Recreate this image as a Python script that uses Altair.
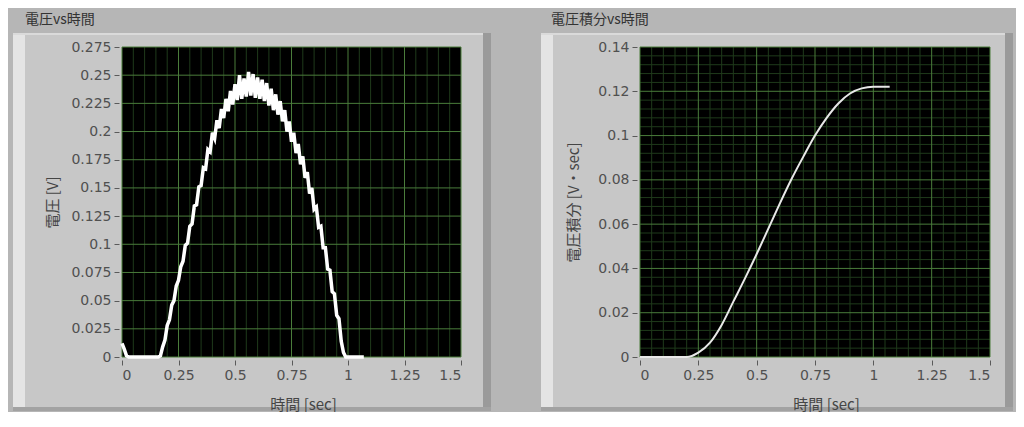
import altair as alt
import pandas as pd

# ---------------- data ----------------
time_v = [
    0.00, 0.01, 0.02, 0.03, 0.04, 0.05, 0.06, 0.07, 0.08, 0.09,
    0.10, 0.11, 0.12, 0.13, 0.14, 0.15, 0.16, 0.17, 0.18, 0.19,
    0.20, 0.21, 0.22, 0.23, 0.24, 0.25, 0.26, 0.27, 0.28, 0.29,
    0.30, 0.31, 0.32, 0.33, 0.34, 0.35, 0.36, 0.37, 0.38, 0.39,
    0.40, 0.41, 0.42, 0.43, 0.44, 0.45, 0.46, 0.47, 0.48, 0.49,
    0.50, 0.51, 0.52, 0.53, 0.54, 0.55, 0.56, 0.57, 0.58, 0.59,
    0.60, 0.61, 0.62, 0.63, 0.64, 0.65, 0.66, 0.67, 0.68, 0.69,
    0.70, 0.71, 0.72, 0.73, 0.74, 0.75, 0.76, 0.77, 0.78, 0.79,
    0.80, 0.81, 0.82, 0.83, 0.84, 0.85, 0.86, 0.87, 0.88, 0.89,
    0.90, 0.91, 0.92, 0.93, 0.94, 0.95, 0.96, 0.97, 0.98, 0.99,
    1.00, 1.01, 1.02, 1.03, 1.04, 1.05, 1.06, 1.07,
]
voltage = [
    0.012, 0.007, 0.001, 0, 0, 0, 0, 0, 0, 0,
    0, 0, 0, 0, 0, 0, 0, 0.001, 0.009, 0.015,
    0.028, 0.033, 0.046, 0.050, 0.063, 0.068, 0.080, 0.085, 0.099, 0.101,
    0.116, 0.118, 0.134, 0.135, 0.151, 0.152, 0.168, 0.167, 0.184, 0.182,
    0.199, 0.194, 0.210, 0.203, 0.220, 0.212, 0.229, 0.218, 0.236, 0.224,
    0.242, 0.228, 0.250, 0.229, 0.247, 0.231, 0.253, 0.232, 0.251, 0.230,
    0.248, 0.229, 0.246, 0.227, 0.243, 0.223, 0.238, 0.219, 0.233, 0.215,
    0.227, 0.209, 0.219, 0.200, 0.209, 0.191, 0.199, 0.181, 0.189, 0.171,
    0.178, 0.159, 0.164, 0.145, 0.150, 0.131, 0.133, 0.115, 0.116, 0.097,
    0.097, 0.078, 0.077, 0.058, 0.056, 0.037, 0.034, 0.014, 0.004, 0,
    0, 0, 0, 0, 0, 0, 0, 0,
]

time_i = [0.00, 0.05, 0.10, 0.15, 0.20, 0.25, 0.30, 0.35, 0.40, 0.45,
          0.50, 0.55, 0.60, 0.65, 0.70, 0.75, 0.80, 0.85, 0.90, 0.95,
          1.00, 1.05, 1.07]
integral = [0, 0, 0, 0, 0, 0.002, 0.0065, 0.0145, 0.025, 0.0355,
            0.0465, 0.058, 0.0695, 0.0805, 0.0905, 0.100, 0.108, 0.1145, 0.119, 0.1213,
            0.122, 0.122, 0.122]

x_ticks = [0, 0.25, 0.5, 0.75, 1, 1.25, 1.5]
x_minor = [0.05, 0.1, 0.15, 0.2, 0.3, 0.35, 0.4, 0.45, 0.55, 0.6, 0.65, 0.7,
           0.8, 0.85, 0.9, 0.95, 1.05, 1.1, 1.15, 1.2, 1.3, 1.35, 1.4, 1.45]
yv_ticks = [0, 0.025, 0.05, 0.075, 0.1, 0.125, 0.15, 0.175, 0.2, 0.225, 0.25, 0.275]
yi_ticks = [0, 0.02, 0.04, 0.06, 0.08, 0.1, 0.12, 0.14]
yi_minor = [0.004, 0.008, 0.012, 0.016, 0.024, 0.028, 0.032, 0.036,
            0.044, 0.048, 0.052, 0.056, 0.064, 0.068, 0.072, 0.076,
            0.084, 0.088, 0.092, 0.096, 0.104, 0.108, 0.112, 0.116,
            0.124, 0.128, 0.132, 0.136]

title_left = "電圧vs時間"
title_right = "電圧積分vs時間"

# ---------------- style ----------------
BG = "#b6b6b6"
FRAME = "#c7c7c7"
BEVEL_LIGHT = "#e4e4e4"
BEVEL_DARK = "#9a9a9a"
MAJOR = "#4a7c3b"
MINOR = "#1f3a1b"
LABEL = "#505050"
CJK = "Noto Sans CJK JP"


def axis(values, title, tx, ty):
    return alt.Axis(
        values=values, format=".4~g", grid=False, domain=False,
        ticks=True, tickSize=5, tickColor="#5a5a5a", tickWidth=1,
        labelColor=LABEL, labelFont="DejaVu Sans", labelFontSize=14,
        labelPadding=3, offset=3, title=title, titleFont=CJK,
        titleFontSize=15, titleFontWeight="normal", titleColor="#454545",
        titleX=tx, titleY=ty, titleBaseline="middle", titleAlign="center",
        zindex=1,
    )


def box(x1, x2, y1, y2, color):
    return alt.Chart(pd.DataFrame({"k": [0]})).mark_rect(color=color).encode(
        x=alt.value(x1), x2=alt.value(x2), y=alt.value(y1), y2=alt.value(y2))


def panel(w, h, cell, frame, title, title_pos, xs, ys, xax, yax,
          ymax, hmajor, hminor, line_df, yfield, line_color, line_w, interp):
    cx1, cx2, cy1, cy2 = cell
    fx1, fx2, fy1, fy2 = frame
    deco = [
        box(cx1, cx2, cy1, cy2, BG),
        box(fx1, fx2, fy1, fy2, FRAME),
        box(fx1, fx1 + 12, fy1, fy2, BEVEL_LIGHT),
        box(fx1, fx2, fy1, fy1 + 2, "#dadada"),
        box(fx2 - 8, fx2, fy1, fy2, BEVEL_DARK),
        box(fx1, fx2, fy2 - 4, fy2, "#a2a2a2"),
        alt.Chart(pd.DataFrame({"t": [title]})).mark_text(
            font=CJK, fontSize=14, color="#333333", align="left", baseline="middle"
        ).encode(x=alt.value(title_pos[0]), y=alt.value(title_pos[1]), text="t:N"),
    ]
    bg = alt.Chart(pd.DataFrame({"x0": [0], "x1": [1.5], "y0": [0], "y1": [ymax]})).mark_rect(
        color="#000000").encode(
        x=alt.X("x0:Q", scale=xs, axis=xax), x2="x1:Q",
        y=alt.Y("y0:Q", scale=ys, axis=yax), y2="y1:Q")
    vminor = alt.Chart(pd.DataFrame({"v": x_minor})).mark_rule(color=MINOR, strokeWidth=1).encode(
        x=alt.X("v:Q", scale=xs, axis=xax))
    vmajor = alt.Chart(pd.DataFrame({"v": x_ticks})).mark_rule(color=MAJOR, strokeWidth=1).encode(
        x=alt.X("v:Q", scale=xs, axis=xax))
    layers = deco + [bg, vminor]
    if hminor:
        layers.append(alt.Chart(pd.DataFrame({"h": hminor})).mark_rule(color=MINOR, strokeWidth=1).encode(
            y=alt.Y("h:Q", scale=ys, axis=yax)))
    layers.append(vmajor)
    layers.append(alt.Chart(pd.DataFrame({"h": hmajor})).mark_rule(color=MAJOR, strokeWidth=1).encode(
        y=alt.Y("h:Q", scale=ys, axis=yax)))
    lkw = dict(color=line_color, strokeWidth=line_w)
    if interp:
        lkw["interpolate"] = interp
    layers.append(alt.Chart(line_df).mark_line(**lkw).encode(
        x=alt.X("t:Q", scale=xs, axis=xax),
        y=alt.Y(yfield + ":Q", scale=ys, axis=yax)))
    return alt.layer(*layers).properties(width=w, height=h)


xs_l = alt.Scale(domain=[0, 1.5], nice=False, zero=False)
ys_l = alt.Scale(domain=[0, 0.275], nice=False)
xs_r = alt.Scale(domain=[0, 1.5], nice=False, zero=False)
ys_r = alt.Scale(domain=[0, 0.14], nice=False)

left = panel(
    339, 310,
    cell=(-114, 390, -39, 365), frame=(-109, 369, -14, 364),
    title=title_left, title_pos=(-97, -27),
    xs=xs_l, ys=ys_l,
    xax=axis(x_ticks, "時間 [sec]", 181, 44),
    yax=axis(yv_ticks, "電圧 [V]", -67, 155),
    ymax=0.275, hmajor=yv_ticks, hminor=None,
    line_df=pd.DataFrame({"t": time_v, "v": voltage}), yfield="v",
    line_color="#ffffff", line_w=3.5, interp=None,
)

right = panel(
    350, 310,
    cell=(-128, 376, -39, 365), frame=(-99, 373, -14, 364),
    title=title_right, title_pos=(-89, -27),
    xs=xs_r, ys=ys_r,
    xax=axis(x_ticks, "時間 [sec]", 186, 44),
    yax=axis(yi_ticks, "電圧積分 [V・sec]", -64, 155),
    ymax=0.14, hmajor=yi_ticks, hminor=yi_minor,
    line_df=pd.DataFrame({"t": time_i, "i": integral}), yfield="i",
    line_color="#e8e8e8", line_w=2, interp="monotone",
)

chart = alt.hconcat(left, right, spacing=0).properties(
    padding=0, background=BG
).configure_view(strokeWidth=0)

chart.save("out.html", embed_options={"renderer": "svg", "actions": False})
